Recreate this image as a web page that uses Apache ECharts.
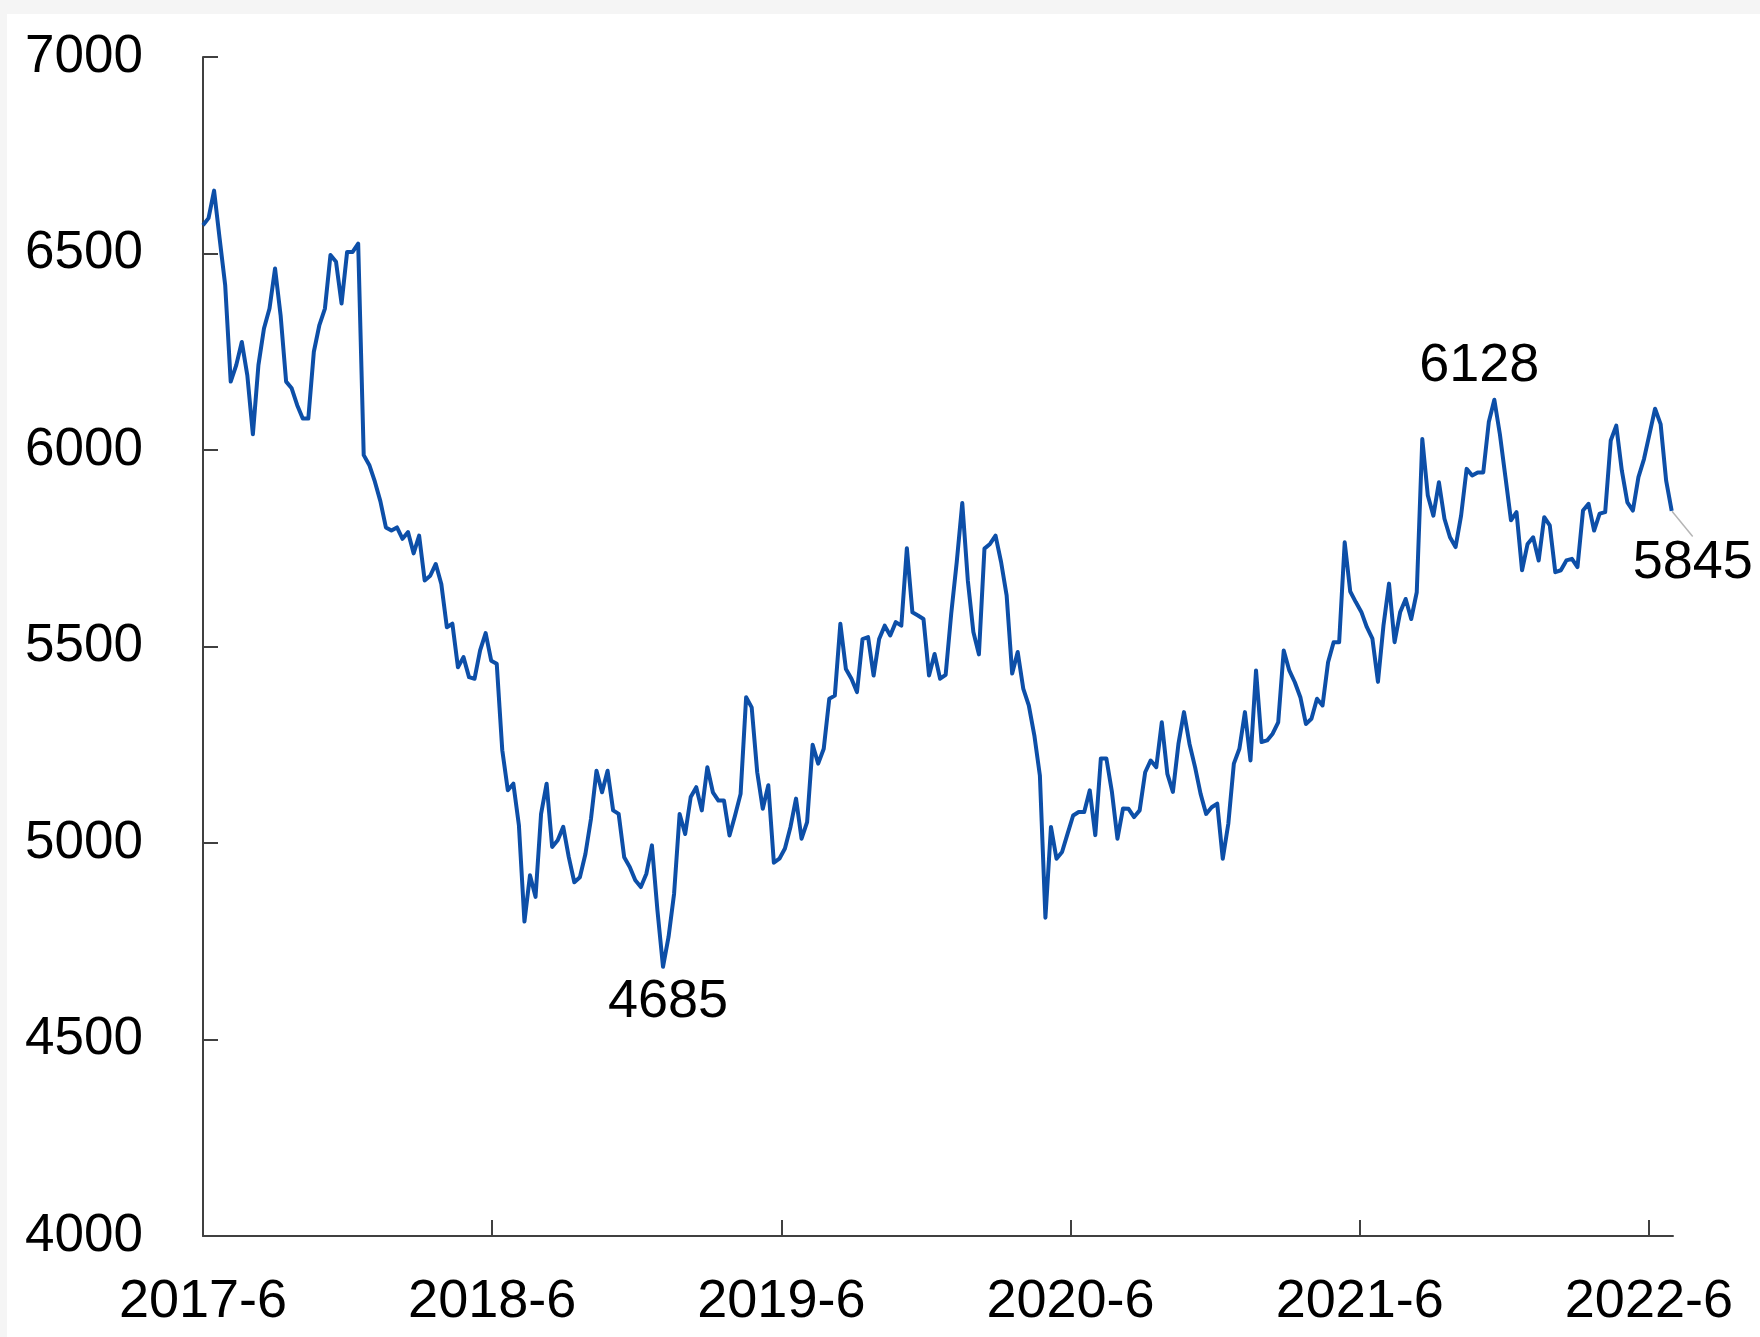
<!DOCTYPE html>
<html>
<head>
<meta charset="utf-8">
<script src="https://cdn.jsdelivr.net/npm/echarts@6/dist/echarts.min.js"></script>
<style>
  html, body { margin: 0; padding: 0; background: #f5f5f5; width: 1760px; height: 1337px; overflow: hidden; }
  #chart { position: absolute; left: 7px; top: 14px; width: 1753px; height: 1323px; background: #ffffff; }
</style>
</head>
<body>
<div id="chart"></div>
<script>
// Weekly series starting 2017-6 (week 0 at the 2017-6 tick)
const startLabel = '2017-6';
const weeklyValues = [
  6572, 6590, 6660, 6538, 6420, 6174, 6216, 6275, 6190, 6040,
  6216, 6309, 6360, 6462, 6343, 6174, 6157, 6114, 6080, 6080,
  6250, 6318, 6360, 6496, 6479, 6373, 6504, 6504, 6525, 5987,
  5962, 5920, 5870, 5803, 5795, 5803, 5774, 5791, 5737, 5782,
  5668, 5680, 5710, 5659, 5549, 5558, 5447, 5473, 5422, 5418,
  5490, 5534, 5464, 5456, 5236, 5134, 5151, 5045, 4800, 4918,
  4863, 5074, 5151, 4990, 5007, 5041, 4964, 4900, 4913, 4972,
  5061, 5184, 5129, 5184, 5083, 5074, 4964, 4939, 4905, 4888,
  4922, 4994, 4828, 4685, 4761, 4871, 5074, 5023, 5117, 5142,
  5083, 5193, 5129, 5108, 5108, 5019, 5070, 5125, 5371, 5345,
  5180, 5087, 5147, 4950, 4960, 4986, 5041, 5113, 5011, 5053,
  5250, 5202, 5240, 5367, 5375, 5558, 5443, 5418, 5384, 5519,
  5524, 5426, 5519, 5553, 5528, 5562, 5553, 5750, 5587, 5579,
  5570, 5426, 5481, 5418, 5428, 5583, 5715, 5865, 5668, 5537,
  5480, 5749, 5761, 5782, 5715, 5630, 5431, 5486, 5393, 5350,
  5274, 5172, 4810, 5041, 4960, 4977, 5024, 5070, 5079, 5079,
  5134, 5020, 5215, 5215, 5130, 5011, 5088, 5087, 5066, 5083,
  5180, 5210, 5193, 5307, 5176, 5130, 5252, 5333, 5252, 5193,
  5125, 5074, 5091, 5100, 4960, 5049, 5202, 5240, 5333, 5210,
  5439, 5257, 5261, 5278, 5307, 5490, 5439, 5409, 5371, 5303,
  5316, 5367, 5350, 5460, 5511, 5511, 5765, 5640, 5613, 5588,
  5549, 5520, 5410, 5554, 5660, 5511, 5587, 5621, 5570, 5638,
  6028, 5884, 5833, 5918, 5825, 5778, 5753, 5833, 5952, 5935,
  5943, 5943, 6071, 6128, 6040, 5931, 5821, 5842, 5694, 5761,
  5778, 5719, 5829, 5808, 5689, 5694, 5719, 5723, 5702, 5846,
  5863, 5795, 5838, 5842, 6024, 6062, 5948, 5867, 5846, 5931,
  5977, 6041, 6105, 6066, 5922, 5845
];
const xTickLabels = ['2017-6', '2018-6', '2019-6', '2020-6', '2021-6', '2022-6'];
const yTickLabels = ['4000', '4500', '5000', '5500', '6000', '6500', '7000'];
// Annotated weeks: minimum, maximum, latest
const annotatedWeeks = [83, 233, weeklyValues.length - 1];

const MONTHS_PER_WEEK = 12 / 52.1775;
const FONT = '"Liberation Sans", Arial, sans-serif';
const LINE_COLOR = '#0d4fa8';

const lineData = weeklyValues.map((v, i) => [i * MONTHS_PER_WEEK, v]);

const labelPositions = ['bottom', 'top', 'bottom'];
const labelShifts = [[5, 3], [-15, -1], [21, 20]];
const annotationData = annotatedWeeks.map((w, k) => {
  const item = {
    value: [w * MONTHS_PER_WEEK, weeklyValues[w]],
    label: { show: true, position: labelPositions[k] }
  };
  if (k === 2) {
    item.labelLine = { show: true, lineStyle: { color: '#b5b5b5', width: 1.5, opacity: 1 } };
  }
  return item;
});

const chart = echarts.init(document.getElementById('chart'), null, { renderer: 'canvas' });
chart.setOption({
  animation: false,
  backgroundColor: '#ffffff',
  grid: { left: 196, top: 43, right: 87, bottom: 101, containLabel: false },
  xAxis: {
    type: 'value', min: 0, max: 61, interval: 12,
    splitLine: { show: false },
    axisLine: { show: true, lineStyle: { color: '#404040', width: 2 } },
    axisTick: { show: true, inside: true, length: 16, customValues: [0, 12, 24, 36, 48, 60], lineStyle: { color: '#404040', width: 2 } },
    axisLabel: {
      customValues: [0, 12, 24, 36, 48, 60],
      formatter: v => xTickLabels[Math.round(v / 12)] || '',
      fontSize: 54, fontFamily: FONT, color: '#000', margin: 39
    }
  },
  yAxis: {
    type: 'value', min: 4000, max: 7000, interval: 500,
    splitLine: { show: false },
    axisLine: { show: true, lineStyle: { color: '#404040', width: 2 } },
    axisTick: { show: true, inside: true, length: 15, lineStyle: { color: '#404040', width: 2 } },
    axisLabel: {
      formatter: v => yTickLabels[Math.round((v - 4000) / 500)] || '',
      fontSize: 53, fontFamily: FONT, color: '#000', margin: 60, padding: [5, 0, 0, 0]
    }
  },
  series: [{
    type: 'line',
    data: lineData,
    showSymbol: false,
    symbol: 'none',
    lineStyle: { color: LINE_COLOR, width: 4, join: 'round' },
    emphasis: { disabled: true },
    silent: true
  }, {
    type: 'scatter',
    data: annotationData,
    symbol: 'circle',
    symbolSize: 1,
    itemStyle: { color: 'rgba(0,0,0,0)' },
    label: { show: true, fontSize: 54, fontFamily: FONT, color: '#000', opacity: 1, distance: 5,
      formatter: p => String(p.value[1]) },
    labelLayout: function (params) {
      const s = labelShifts[params.dataIndex];
      return { dx: s[0], dy: s[1] };
    },
    emphasis: { disabled: true },
    silent: true
  }]
});
</script>
</body>
</html>
